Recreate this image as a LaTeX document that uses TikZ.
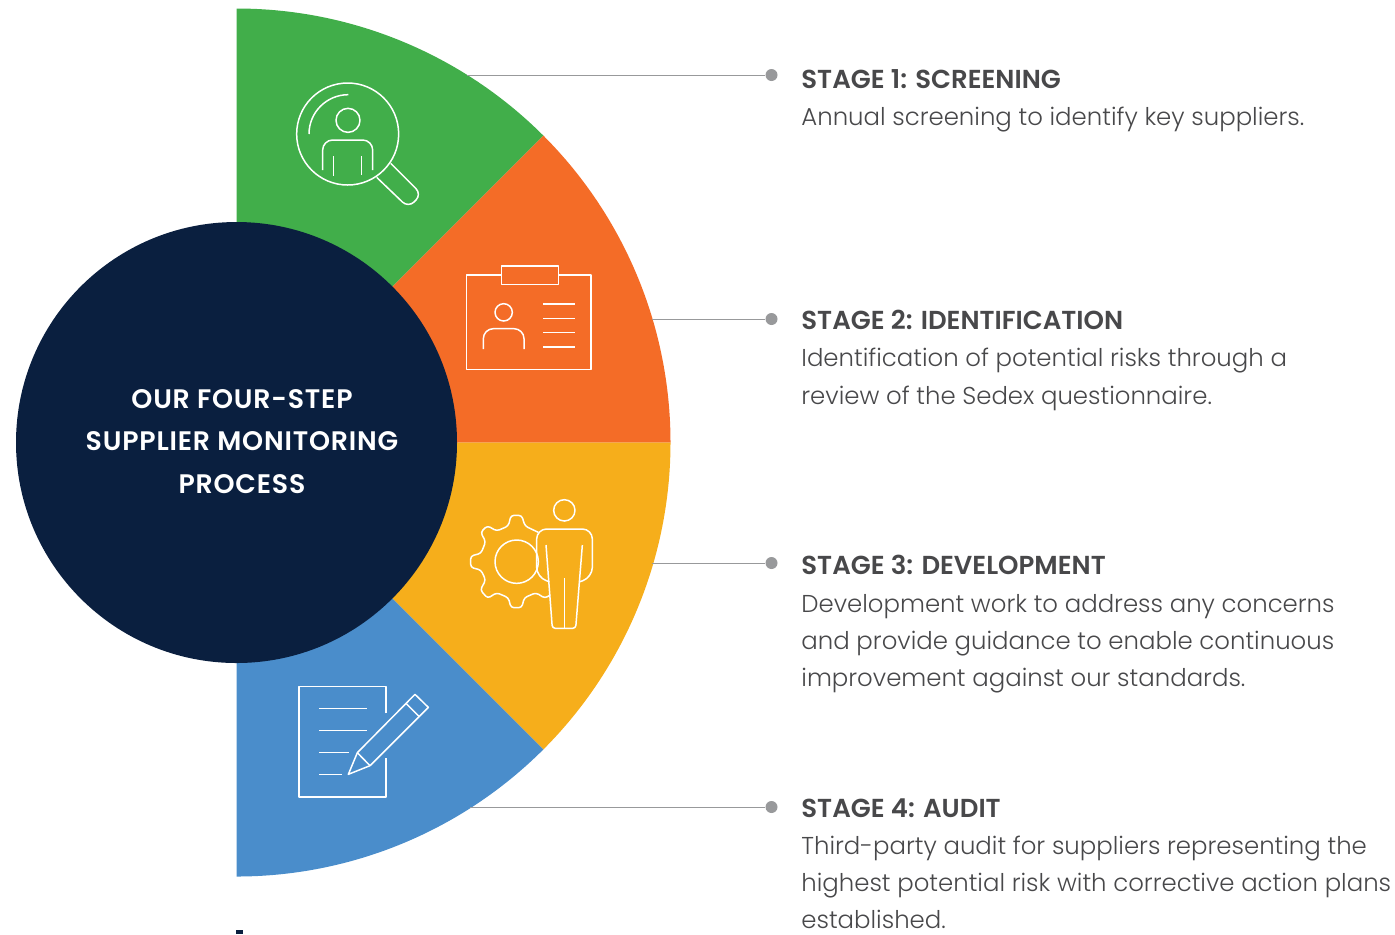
\documentclass[tikz,border=0pt]{standalone}
\usepackage{fontspec}
\setmainfont{Poppins}[UprightFont=* Light,BoldFont=* SemiBold]
\usetikzlibrary{positioning}
\definecolor{stagegreen}{HTML}{41AE4A}
\definecolor{stageorange}{HTML}{F46C27}
\definecolor{stageyellow}{HTML}{F6AE1B}
\definecolor{stageblue}{HTML}{4A8DCB}
\definecolor{hubnavy}{HTML}{0A1F3F}
\definecolor{leadgrey}{HTML}{98999B}
\definecolor{textgrey}{HTML}{48484A}
\newcommand{\stagehead}[1]{{\fontsize{13}{18.7}\selectfont\bfseries #1}}
\tikzset{
    icon/.style={draw=white,line width=0.75pt,line join=round},
    lead/.style={draw=leadgrey,line width=0.5pt},
    leaddot/.style={circle,fill=leadgrey,inner sep=0pt,minimum size=6pt},
    stagetext/.style={anchor=north west,inner sep=0pt,align=left,text=textgrey,
        font=\fontsize{12.2}{18.6}\selectfont},
}
\begin{document}
\begin{tikzpicture}[x=0.5pt,y=-0.5pt]
    \useasboundingbox (0,0) rectangle (1395,934);
    \coordinate (hub) at (236.5,442.5);

    % Quarti esterni
    \fill[stagegreen] (hub) -- ++(0,-434) arc[start angle=-90,end angle=-45,radius=434] -- cycle;
    \fill[stageorange] (hub) -- ++(-45:434) arc[start angle=-45,end angle=0,radius=434] -- cycle;
    \fill[stageyellow] (hub) -- ++(434,0) arc[start angle=0,end angle=45,radius=434] -- cycle;
    \fill[stageblue] (hub) -- ++(45:434) arc[start angle=45,end angle=90,radius=434] -- cycle;

    % Cerchio centrale
    \node[circle,fill=hubnavy,minimum size=220.5pt,inner sep=0pt] (centre) at (hub) {};
    \node[text=white,align=center,font=\fontsize{13.4}{21.3}\selectfont\bfseries] (title) at (242,441.5)
        {\addfontfeature{LetterSpace=3}OUR FOUR-STEP\\\addfontfeature{LetterSpace=3}SUPPLIER MONITORING\\\addfontfeature{LetterSpace=3}PROCESS};
    \fill[hubnavy] (236,930) rectangle (243,934);

    % Stage 1
    \begin{scope}[shift={(280,60)},scale=1/3]
        \draw[icon] (203,222) circle[radius=153];
        \draw[icon] (87,222) arc[start angle=180,end angle=270,radius=118];
        \draw[icon] (204,181) circle[radius=36];
        \draw[icon,rounded corners=5pt] (128,330) -- (128,240) -- (278,240) -- (278,330);
        \draw[icon] (161,288) -- (161,348) (245,288) -- (245,345);
        \draw[icon,rounded corners=4pt] (332,310) -- (425,403) -- (385,443) -- (290,352);
    \end{scope}

    % Stage 2
    \begin{scope}[shift={(450,250)},scale=1/3]
        \draw[icon] (155,75) -- (50,75) -- (50,358) -- (423,358) -- (423,75) -- (325,75);
        \draw[icon] (155,48) rectangle (325,103);
        \draw[icon] (161,187) circle[radius=26];
        \draw[icon,rounded corners=5pt] (100,297) -- (100,236) -- (222,236) -- (222,297);
        \foreach \ypos in {162,205,248,291}
            \draw[icon] (280,\ypos) -- (375,\ypos);
    \end{scope}

    % Stage 3
    \begin{scope}[shift={(455,490)},scale=1/3]
        \draw[icon,rounded corners=1.5pt] (250,127) -- (210,108) -- (200,76) -- (168,76) -- (160,108)
            -- (125,123) -- (97,107) -- (77,127) -- (92,155) -- (78,190) -- (47,198) -- (47,232)
            -- (78,240) -- (92,270) -- (76,300) -- (98,325) -- (125,308) -- (160,323) -- (168,353)
            -- (200,353) -- (208,323) -- (243,308) -- (270,325) -- (285,315);
        \draw[icon] (185,215) circle[radius=65];
        \draw[icon] (328,61) circle[radius=32];
        \draw[icon,rounded corners=5pt] (283,275) -- (245,262) -- (245,117) -- (412,117) -- (412,262) -- (375,275);
        \draw[icon,rounded corners=1.5pt] (273,165) -- (292,415) -- (362,415) -- (382,165);
        \draw[icon] (328,265) -- (328,415);
    \end{scope}

    % Stage 4
    \begin{scope}[shift={(285,675)},scale=1/3]
        \draw[icon] (303,115) -- (303,35) -- (42,35) -- (42,366) -- (303,366) -- (303,250);
        \draw[icon] (102,101) -- (245,101) (102,167) -- (245,167) (102,233) -- (192,233) (102,299) -- (170,299);
        \draw[icon] (190,298) -- (217,233) -- (390,58) -- (430,97) -- (255,272) -- cycle;
        \draw[icon] (217,233) -- (255,272) (363,85) -- (402,124);
    \end{scope}

    % Linee
    \coordinate (wedge1) at (467,75);
    \coordinate (wedge2) at (652,319);
    \coordinate (wedge3) at (652,563);
    \coordinate (wedge4) at (470,807);
    \node[leaddot] (dot1) at (771.5,75) {};
    \node[leaddot] (dot2) at (771.5,319) {};
    \node[leaddot] (dot3) at (771.5,563) {};
    \node[leaddot] (dot4) at (771.5,807) {};
    \foreach \i in {1,2,3,4}
        \draw[lead] (wedge\i) -- (dot\i);

    % Testi
    \node[stagetext] (stage1) at (801,69) {\stagehead{STAGE 1: SCREENING}\\Annual screening to identify key suppliers.};
    \node[stagetext] (stage2) at (801,310) {\stagehead{STAGE 2: IDENTIFICATION}\\Identification of potential risks through a\\review of the Sedex questionnaire.};
    \node[stagetext] (stage3) at (801,555) {\stagehead{STAGE 3: DEVELOPMENT}\\Development work to address any concerns\\and provide guidance to enable continuous\\improvement against our standards.};
    \node[stagetext] (stage4) at (801,798) {\stagehead{STAGE 4: AUDIT}\\Third-party audit for suppliers representing the\\highest potential risk with corrective action plans\\established.};
\end{tikzpicture}
\end{document}
